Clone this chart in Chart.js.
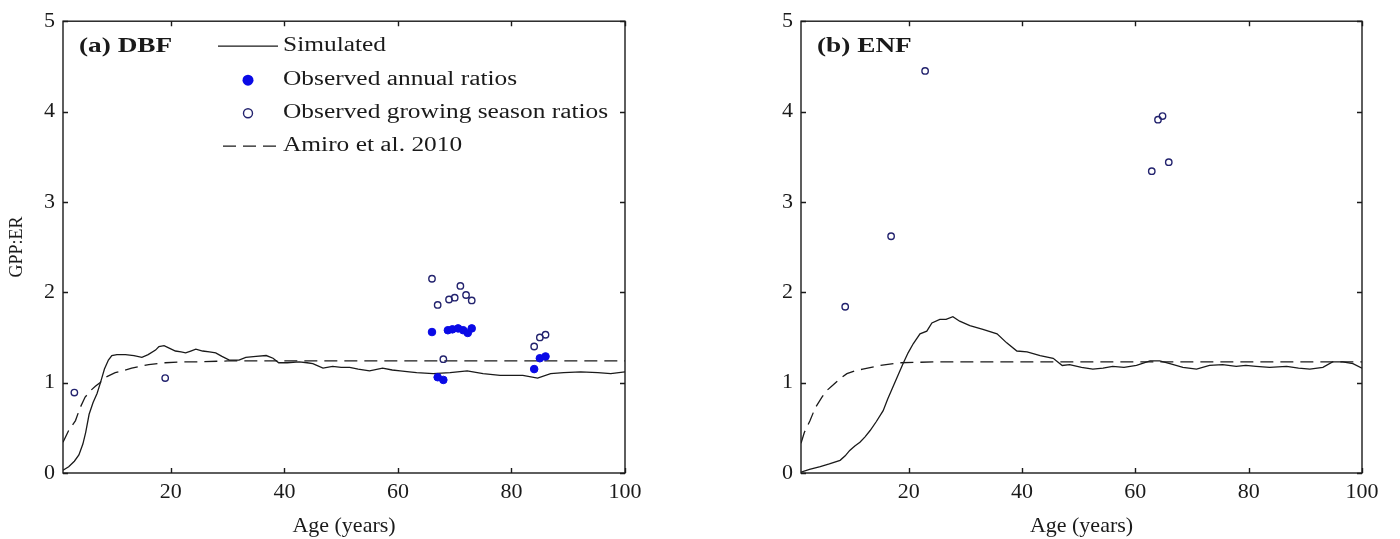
<!DOCTYPE html>
<html>
<head>
<meta charset="utf-8">
<script src="https://cdn.jsdelivr.net/npm/chart.js@4.4.1/dist/chart.umd.min.js"></script>
<style>
  html, body { margin: 0; padding: 0; background: #fff; }
  #wrap { position: relative; width: 1400px; height: 539px; background: #fff; overflow: hidden; }
  .panel { position: absolute; top: 0; width: 700px; height: 539px; }
</style>
</head>
<body>
<div id="wrap">
  <div class="panel" style="left:0"><canvas id="c1"></canvas></div>
  <div class="panel" style="left:700px"><canvas id="c2"></canvas></div>
</div>
<script>
// ---------- tick labels ----------
const xTicks = [20, 40, 60, 80, 100];
const yTicks = [0, 1, 2, 3, 4, 5];

// ---------- (a) DBF ----------
const dbfSimAge = [1, 2, 3, 3.8, 4.5, 5, 5.6, 6.3, 7, 7.6, 8.3, 9, 9.6, 10.5, 12, 13.5, 14.9, 16, 17.3, 17.9, 18.8, 19.8, 20.8, 21.8, 22.6, 23.5, 24.4, 25.6, 26.8, 27.9, 29, 30.3, 32, 33.2, 35, 36.8, 38, 39, 40.5, 42.6, 44, 45, 46.8, 48.5, 50, 51.5, 53, 55, 57.3, 59, 60.4, 62, 63.3, 66.2, 69.2, 72.2, 75, 78, 82, 84.6, 86.9, 89.2, 92.2, 95.2, 97.5, 100];
const dbfSimVal = [0.03, 0.07, 0.13, 0.2, 0.32, 0.45, 0.65, 0.78, 0.88, 1.0, 1.15, 1.25, 1.30, 1.31, 1.31, 1.30, 1.28, 1.31, 1.36, 1.40, 1.41, 1.38, 1.35, 1.34, 1.33, 1.35, 1.37, 1.35, 1.34, 1.33, 1.29, 1.25, 1.25, 1.28, 1.29, 1.30, 1.27, 1.22, 1.22, 1.23, 1.22, 1.21, 1.16, 1.18, 1.17, 1.17, 1.15, 1.13, 1.16, 1.14, 1.13, 1.12, 1.11, 1.10, 1.11, 1.13, 1.10, 1.08, 1.08, 1.05, 1.10, 1.11, 1.12, 1.11, 1.10, 1.12];
const dbfAmiroAge = [1, 2, 3.2, 4, 4.9, 6, 6.7, 7.5, 8.5, 10.2, 11.5, 13.1, 16.1, 19, 22, 24.8, 30, 40, 50, 60, 70, 80, 90, 100];
const dbfAmiroVal = [0.34, 0.47, 0.58, 0.72, 0.84, 0.92, 0.96, 1.0, 1.06, 1.11, 1.13, 1.16, 1.20, 1.22, 1.23, 1.23, 1.24, 1.24, 1.24, 1.24, 1.24, 1.24, 1.24, 1.24];
const dbfAnnAge = [66, 67, 68, 68.8, 69.6, 70.6, 71.5, 72.3, 73, 84, 85, 86];
const dbfAnnVal = [1.56, 1.06, 1.03, 1.58, 1.59, 1.60, 1.58, 1.55, 1.60, 1.15, 1.27, 1.29];
const dbfGrowAge = [3, 19, 66, 67, 68, 69, 70, 71, 72, 73, 84, 85, 86];
const dbfGrowVal = [0.89, 1.05, 2.15, 1.86, 1.26, 1.92, 1.94, 2.07, 1.97, 1.91, 1.40, 1.50, 1.53];

// ---------- (b) ENF ----------
const enfSimAge = [1, 2.5, 4.4, 6, 7.9, 8.8, 9.6, 10.5, 11.4, 12.3, 13.2, 14.3, 15.5, 16.3, 17.2, 18.1, 19, 19.9, 20.8, 22, 23.2, 24.1, 25.5, 26.6, 27.8, 29, 30.8, 33.1, 35.6, 37.3, 39.1, 40.9, 43.2, 45.5, 47.1, 48.4, 50.5, 52.5, 54.3, 56, 58, 60.2, 62.6, 64.3, 66.1, 68.4, 70.8, 73.1, 75.4, 77.8, 79.5, 81.3, 83.7, 86.7, 88.8, 90.8, 93.1, 94.8, 96.6, 98.4, 100];
const enfSimVal = [0.01, 0.04, 0.07, 0.10, 0.14, 0.19, 0.25, 0.30, 0.34, 0.40, 0.47, 0.57, 0.69, 0.82, 0.95, 1.08, 1.21, 1.33, 1.43, 1.54, 1.57, 1.66, 1.70, 1.70, 1.73, 1.68, 1.63, 1.59, 1.54, 1.44, 1.35, 1.34, 1.30, 1.27, 1.19, 1.20, 1.17, 1.15, 1.16, 1.18, 1.17, 1.19, 1.24, 1.24, 1.21, 1.17, 1.15, 1.19, 1.20, 1.18, 1.19, 1.18, 1.17, 1.18, 1.16, 1.15, 1.17, 1.23, 1.23, 1.21, 1.16];
const enfAmiroAge = [1, 1.6, 2.6, 3.5, 4.7, 5.5, 6.6, 8, 9.1, 10.5, 11.9, 14.9, 18.5, 25, 30, 40, 50, 60, 70, 80, 90, 100];
const enfAmiroVal = [0.33, 0.45, 0.58, 0.72, 0.84, 0.91, 0.97, 1.05, 1.10, 1.13, 1.15, 1.19, 1.22, 1.23, 1.23, 1.23, 1.23, 1.23, 1.23, 1.23, 1.23, 1.23];
const enfGrowAge = [8.8, 16.9, 22.9, 62.9, 64, 64.8, 65.9];
const enfGrowVal = [1.84, 2.62, 4.45, 3.34, 3.91, 3.95, 3.44];

// ---------- text ----------
const legendLabels = ['Simulated', 'Observed annual ratios', 'Observed growing season ratios', 'Amiro et al. 2010'];
const panelLabels = ['(a) DBF', '(b) ENF'];
const xTitle = 'Age (years)';
const yTitle = 'GPP:ER';

const SERIF = "'Liberation Serif', 'Times New Roman', serif";
const INK = '#1a1a1a';
const OPEN_C = '#23236e';
const FILL_C = '#0a0ae6';

function pts(xs, ys) { return xs.map((v, i) => ({ x: v, y: ys[i] })); }

const framePlugin = {
  id: 'frame',
  afterDatasetsDraw(chart) {
    const { ctx, chartArea: a, scales: { x, y } } = chart;
    ctx.save();
    ctx.strokeStyle = INK;
    ctx.lineWidth = 1.4;
    ctx.strokeRect(a.left, a.top, a.right - a.left, a.bottom - a.top);
    const L = 5;
    ctx.beginPath();
    xTicks.forEach(v => {
      const px = Math.round(x.getPixelForValue(v)) + 0.5;
      ctx.moveTo(px, a.bottom); ctx.lineTo(px, a.bottom - L);
      ctx.moveTo(px, a.top); ctx.lineTo(px, a.top + L);
    });
    yTicks.forEach(v => {
      const py = Math.round(y.getPixelForValue(v)) + 0.5;
      ctx.moveTo(a.left, py); ctx.lineTo(a.left + L, py);
      ctx.moveTo(a.right, py); ctx.lineTo(a.right - L, py);
    });
    ctx.stroke();
    ctx.restore();
  }
};

function stretchedText(ctx, text, x, y, font, sx) {
  ctx.save();
  ctx.font = font;
  ctx.fillStyle = INK;
  ctx.textBaseline = 'middle';
  ctx.textAlign = 'left';
  ctx.translate(x, y);
  ctx.scale(sx, 1);
  ctx.fillText(text, 0, 0);
  ctx.restore();
}

const labelPlugin = {
  id: 'panelLabel',
  afterDraw(chart, args, opts) {
    const { ctx, chartArea: a } = chart;
    stretchedText(ctx, opts.text, a.left + 16, a.top + 25, 'bold 21px ' + SERIF, 1.3);
    if (!opts.legend) return;
    const ds = chart.data.datasets;
    const mx = a.left + 185, lx0 = a.left + 155, lx1 = a.left + 215, tx = a.left + 220;
    const rows = [a.top + 25, a.top + 59, a.top + 92, a.top + 125];
    ctx.save();
    // Simulated
    ctx.strokeStyle = INK; ctx.lineWidth = 1.3; ctx.setLineDash([]);
    ctx.beginPath(); ctx.moveTo(lx0, rows[0]); ctx.lineTo(lx1, rows[0]); ctx.stroke();
    // annual (filled)
    ctx.fillStyle = FILL_C;
    ctx.beginPath(); ctx.arc(mx, rows[1], 5.5, 0, Math.PI * 2); ctx.fill();
    // growing (open)
    ctx.strokeStyle = OPEN_C; ctx.lineWidth = 1.4;
    ctx.beginPath(); ctx.arc(mx, rows[2], 4.5, 0, Math.PI * 2); ctx.stroke();
    // Amiro dashed
    ctx.strokeStyle = INK; ctx.lineWidth = 1.3; ctx.setLineDash([13, 7]);
    ctx.beginPath(); ctx.moveTo(lx0 + 5, rows[3]); ctx.lineTo(lx1, rows[3]); ctx.stroke();
    ctx.restore();
    legendLabels.forEach((t, i) => stretchedText(ctx, t, tx, rows[i], '20px ' + SERIF, 1.27));
  }
};

function makeChart(id, sim, amiro, ann, grow, label, withLegend, padLeft, padRight, showYTitle) {
  const datasets = [
    { data: sim, showLine: true, borderColor: INK, borderWidth: 1.3, pointRadius: 0, fill: false, tension: 0, order: 3 },
    { data: amiro, showLine: true, borderColor: INK, borderWidth: 1.3, borderDash: [13, 7], pointRadius: 0, fill: false, tension: 0, order: 4 },
    { data: ann, showLine: false, pointRadius: 3.8, pointBackgroundColor: FILL_C, pointBorderColor: FILL_C, pointBorderWidth: 1, order: 2 },
    { data: grow, showLine: false, pointRadius: 3.2, pointBackgroundColor: 'rgba(255,255,255,0)', pointBorderColor: OPEN_C, pointBorderWidth: 1.4, order: 1 }
  ];
  return new Chart(document.getElementById(id), {
    type: 'scatter',
    data: { datasets },
    plugins: [framePlugin, labelPlugin],
    options: {
      responsive: true,
      maintainAspectRatio: false,
      animation: false,
      layout: { padding: { left: padLeft, right: padRight, top: 18, bottom: 0 } },
      plugins: {
        legend: { display: false },
        tooltip: { enabled: false },
        panelLabel: { text: label, legend: withLegend }
      },
      scales: {
        x: {
          type: 'linear', min: 1, max: 100,
          afterBuildTicks: s => { s.ticks = xTicks.map(v => ({ value: v })); },
          afterFit: s => { s.height = 66; },
          grid: { display: false, drawTicks: false },
          border: { display: false },
          ticks: { color: INK, font: { family: SERIF, size: 22 }, padding: 6, maxRotation: 0 },
          title: { display: true, text: xTitle, color: INK, font: { family: SERIF, size: 22 }, padding: { top: 0, bottom: 0 } }
        },
        y: {
          type: 'linear', min: 0, max: 5,
          afterBuildTicks: s => { s.ticks = yTicks.map(v => ({ value: v })); },
          afterFit: s => { s.width = 63; },
          grid: { display: false, drawTicks: false },
          border: { display: false },
          ticks: { color: INK, font: { family: SERIF, size: 22 }, padding: 8 },
          title: { display: showYTitle, text: yTitle, color: INK, font: { family: SERIF, size: 18 }, padding: { top: 6, bottom: 0 } }
        }
      }
    }
  });
}

makeChart('c1', pts(dbfSimAge, dbfSimVal), pts(dbfAmiroAge, dbfAmiroVal), pts(dbfAnnAge, dbfAnnVal), pts(dbfGrowAge, dbfGrowVal), panelLabels[0], true, 0, 75, true);
makeChart('c2', pts(enfSimAge, enfSimVal), pts(enfAmiroAge, enfAmiroVal), [], pts(enfGrowAge, enfGrowVal), panelLabels[1], false, 38, 38, false);
</script>
</body>
</html>
